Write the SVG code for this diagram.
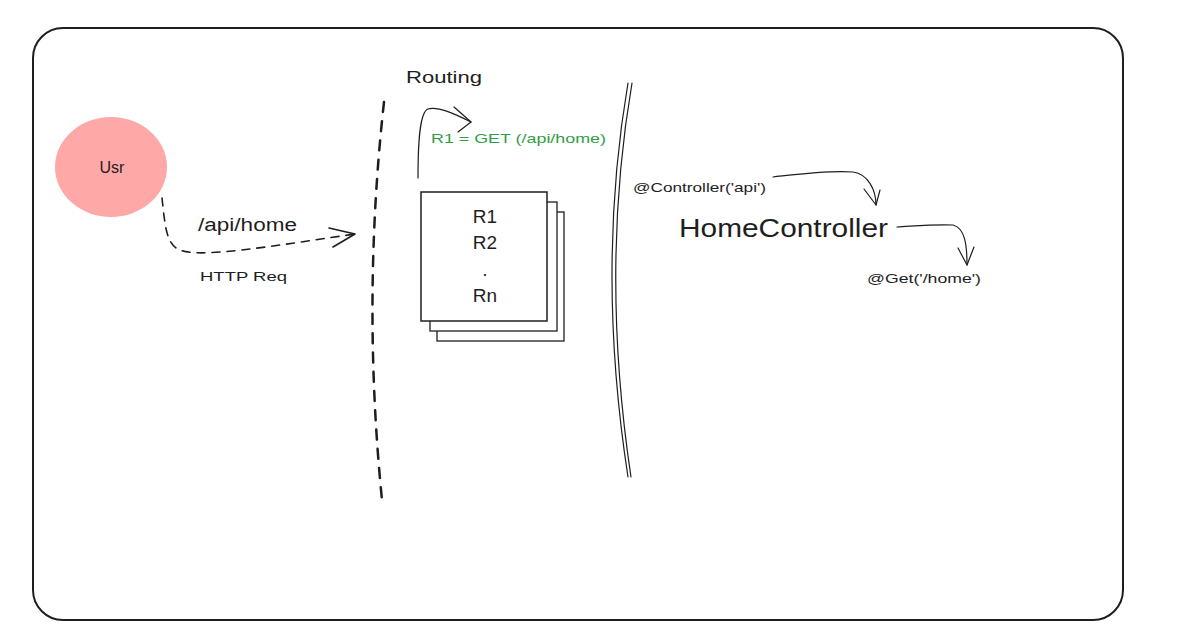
<svg xmlns="http://www.w3.org/2000/svg" width="1190" height="643" viewBox="0 0 1190 643">
<style>
  .t { font-family: "Liberation Sans", "DejaVu Sans", sans-serif; fill: #1e1e1e; }
  .ln { fill: none; stroke: #1e1e1e; stroke-linecap: round; stroke-linejoin: round; }
</style>
<rect width="1190" height="643" fill="#ffffff"/>
<g id="frame">
  <rect x="33" y="28" width="1090" height="592" rx="30" ry="30" fill="none" stroke="#1e1e1e" stroke-width="2"/>
</g>
<g id="user">
  <ellipse cx="111" cy="167" rx="56" ry="50" fill="#ffa8a8"/>
  <text class="t" x="112" y="173" font-size="16" text-anchor="middle">Usr</text>
</g>
<g id="routing-label">
  <text class="t" x="406" y="83" font-size="17" textLength="76" lengthAdjust="spacingAndGlyphs">Routing</text>
</g>
<g id="route-rule">
  <text x="431" y="143" font-size="13.5" font-family="Liberation Sans, DejaVu Sans, sans-serif" fill="#2f9e44" textLength="175" lengthAdjust="spacingAndGlyphs">R1 = GET (/api/home)</text>
</g>
<g id="route-table">
  <rect x="437" y="212" width="127" height="129" fill="#ffffff" stroke="#1e1e1e" stroke-width="1.3"/>
  <rect x="430" y="202" width="127" height="129" fill="#ffffff" stroke="#1e1e1e" stroke-width="1.3"/>
  <rect x="421" y="192" width="126" height="129" fill="#ffffff" stroke="#1e1e1e" stroke-width="1.5"/>
  <text class="t" x="485" y="223" font-size="19" text-anchor="middle">R1</text>
  <text class="t" x="485" y="249" font-size="19" text-anchor="middle">R2</text>
  <text class="t" x="485" y="276" font-size="19" text-anchor="middle">.</text>
  <text class="t" x="485" y="302" font-size="19" text-anchor="middle">Rn</text>
</g>
<g id="controller">
  <text class="t" x="633" y="192" font-size="13" textLength="133" lengthAdjust="spacingAndGlyphs">@Controller('api')</text>
  <text class="t" x="679" y="237" font-size="26" textLength="209" lengthAdjust="spacingAndGlyphs">HomeController</text>
  <text class="t" x="867" y="283" font-size="13" textLength="114" lengthAdjust="spacingAndGlyphs">@Get('/home')</text>
</g>
<g id="http-labels">
  <text class="t" x="198" y="231" font-size="18" textLength="99" lengthAdjust="spacingAndGlyphs">/api/home</text>
  <text class="t" x="200" y="281" font-size="13" textLength="87" lengthAdjust="spacingAndGlyphs">HTTP Req</text>
</g>
<g id="connectors">
  <!-- boundary dashed -->
  <path class="ln" d="M384 102 Q362 300 382 500" stroke-width="2.5" stroke-dasharray="10 9.3"/>
  <!-- double line -->
  <path class="ln" d="M628 83 Q596 270 628 477" stroke-width="1.2"/>
  <path class="ln" d="M632 83 Q600 270 631 477" stroke-width="1.2"/>
  <!-- http request dashed arrow -->
  <path class="ln" d="M162 198 C165 225 166 245 180 250 C200 258 260 248 355 234" stroke-width="1.6" stroke-dasharray="8 7"/>
  <path class="ln" d="M329 228 L355 234 L333 247" stroke-width="1.6"/>
  <!-- routing arrow -->
  <path class="ln" d="M418 178 C418 140 420 112 428 109 C438 106 455 114 471 122" stroke-width="1.2"/>
  <path class="ln" d="M454 107 L471 122 L458 132" stroke-width="1.2"/>
  <!-- controller arrow -->
  <path class="ln" d="M773 177 C800 174 830 170 853 172 C868 174 876 190 876 205" stroke-width="1.2"/>
  <path class="ln" d="M864 189 L876 205 L880 190" stroke-width="1.2"/>
  <!-- get arrow -->
  <path class="ln" d="M897 227 C915 226 935 224 953 225 C965 228 967 245 967 265" stroke-width="1.2"/>
  <path class="ln" d="M958 248 L967 265 L974 247" stroke-width="1.2"/>
</g>
</svg>
